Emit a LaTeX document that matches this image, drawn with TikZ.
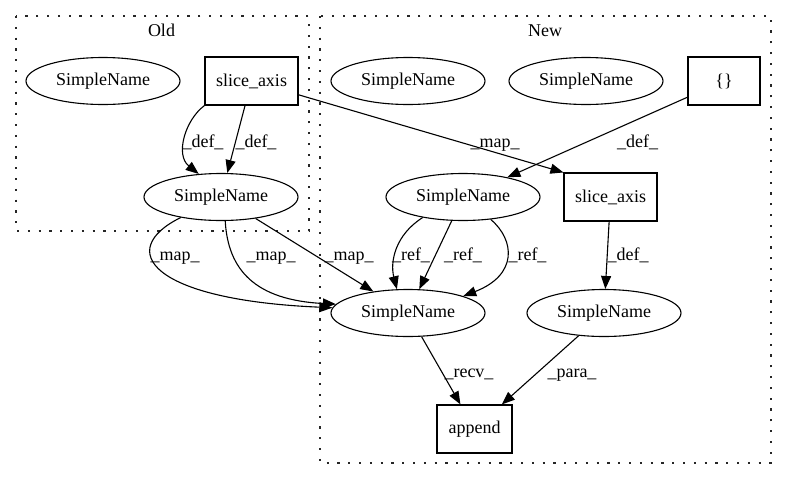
\documentclass[tikz,border=0pt]{standalone}
\usepackage{fontspec}
\setmainfont{Liberation Serif}
\usetikzlibrary{shapes.geometric,arrows.meta}
\begin{document}
\begin{tikzpicture}[x=1pt,y=-1pt,
  every node/.style={font=\fontsize{18}{21}\selectfont},
  sn/.style={draw, ellipse, line width=1.1pt, minimum width=154pt, minimum height=47pt, inner sep=0pt},
  bx/.style={draw, rectangle, line width=1.1pt, minimum height=48pt, inner sep=0pt},
  cl/.style={draw=black!85, line width=1.2pt, dash pattern=on 2.2pt off 8.6pt},
  ed/.style={draw, line width=1.1pt, -{Triangle[length=13pt,width=10pt]}},
  lb/.style={anchor=base, inner sep=0pt}]
\useasboundingbox (0,0) rectangle (787,480);
\draw[cl] (16,16) rectangle (309,231);
\draw[cl] (320,16) rectangle (771,463);
\node[lb] (oldt) at (161.5,36) {Old};
\node[lb] (newt) at (545,36) {New};
% Old
\node[sn] (osn0) at (103,81) {SimpleName};
\node[bx, minimum width=93pt] (oslice) at (251.5,81) {slice\_axis};
\node[sn] (osn) at (221,197) {SimpleName};
% New
\node[sn] (nsn1) at (408,81) {SimpleName};
\node[sn] (nsn2) at (586,81) {SimpleName};
\node[bx, minimum width=72pt] (nbr) at (724,81) {\{\}};
\node[sn] (nsnm) at (463,197) {SimpleName};
\node[bx, minimum width=93pt] (nslice) at (610.5,197) {slice\_axis};
\node[sn] (ntgt) at (408,313) {SimpleName};
\node[sn] (nsnr) at (604,313) {SimpleName};
\node[bx, minimum width=75pt] (app) at (474.5,429) {append};
% edges
\draw[ed] (oslice.south west) .. controls (185,120) and (175,155) .. (osn.134) node[lb] at (203,147) {\_def\_};
\draw[ed] (oslice) -- (osn) node[lb] at (256,147) {\_def\_};
\draw[ed] (oslice) -- (nslice.north west) node[lb] at (495,147) {\_map\_};
\draw[ed] (nbr) -- (nsnm) node[lb] at (637.5,147) {\_def\_};
\draw[ed] (osn.207) .. controls (115,250) and (150,300) .. (ntgt.176) node[lb] at (175,260) {\_map\_};
\draw[ed] (osn.280) .. controls (228,270) and (255,300) .. (ntgt.173) node[lb] at (271,260) {\_map\_};
\draw[ed] (osn) -- (ntgt) node[lb] at (349,260) {\_map\_};
\draw[ed] (nsnm.207) .. controls (395,235) and (390,262) .. (ntgt.115) node[lb] at (411,260) {\_ref\_};
\draw[ed] (nsnm) -- (ntgt) node[lb] at (463,260) {\_ref\_};
\draw[ed] (nsnm.321) .. controls (515,240) and (518,275) .. (ntgt.17) node[lb] at (527.5,260) {\_ref\_};
\draw[ed] (nslice) -- (nsnr) node[lb] at (628,260) {\_def\_};
\draw[ed] (ntgt) -- (app) node[lb] at (469,377) {\_recv\_};
\draw[ed] (nsnr) -- (app) node[lb] at (572,377) {\_para\_};
\end{tikzpicture}
\end{document}
